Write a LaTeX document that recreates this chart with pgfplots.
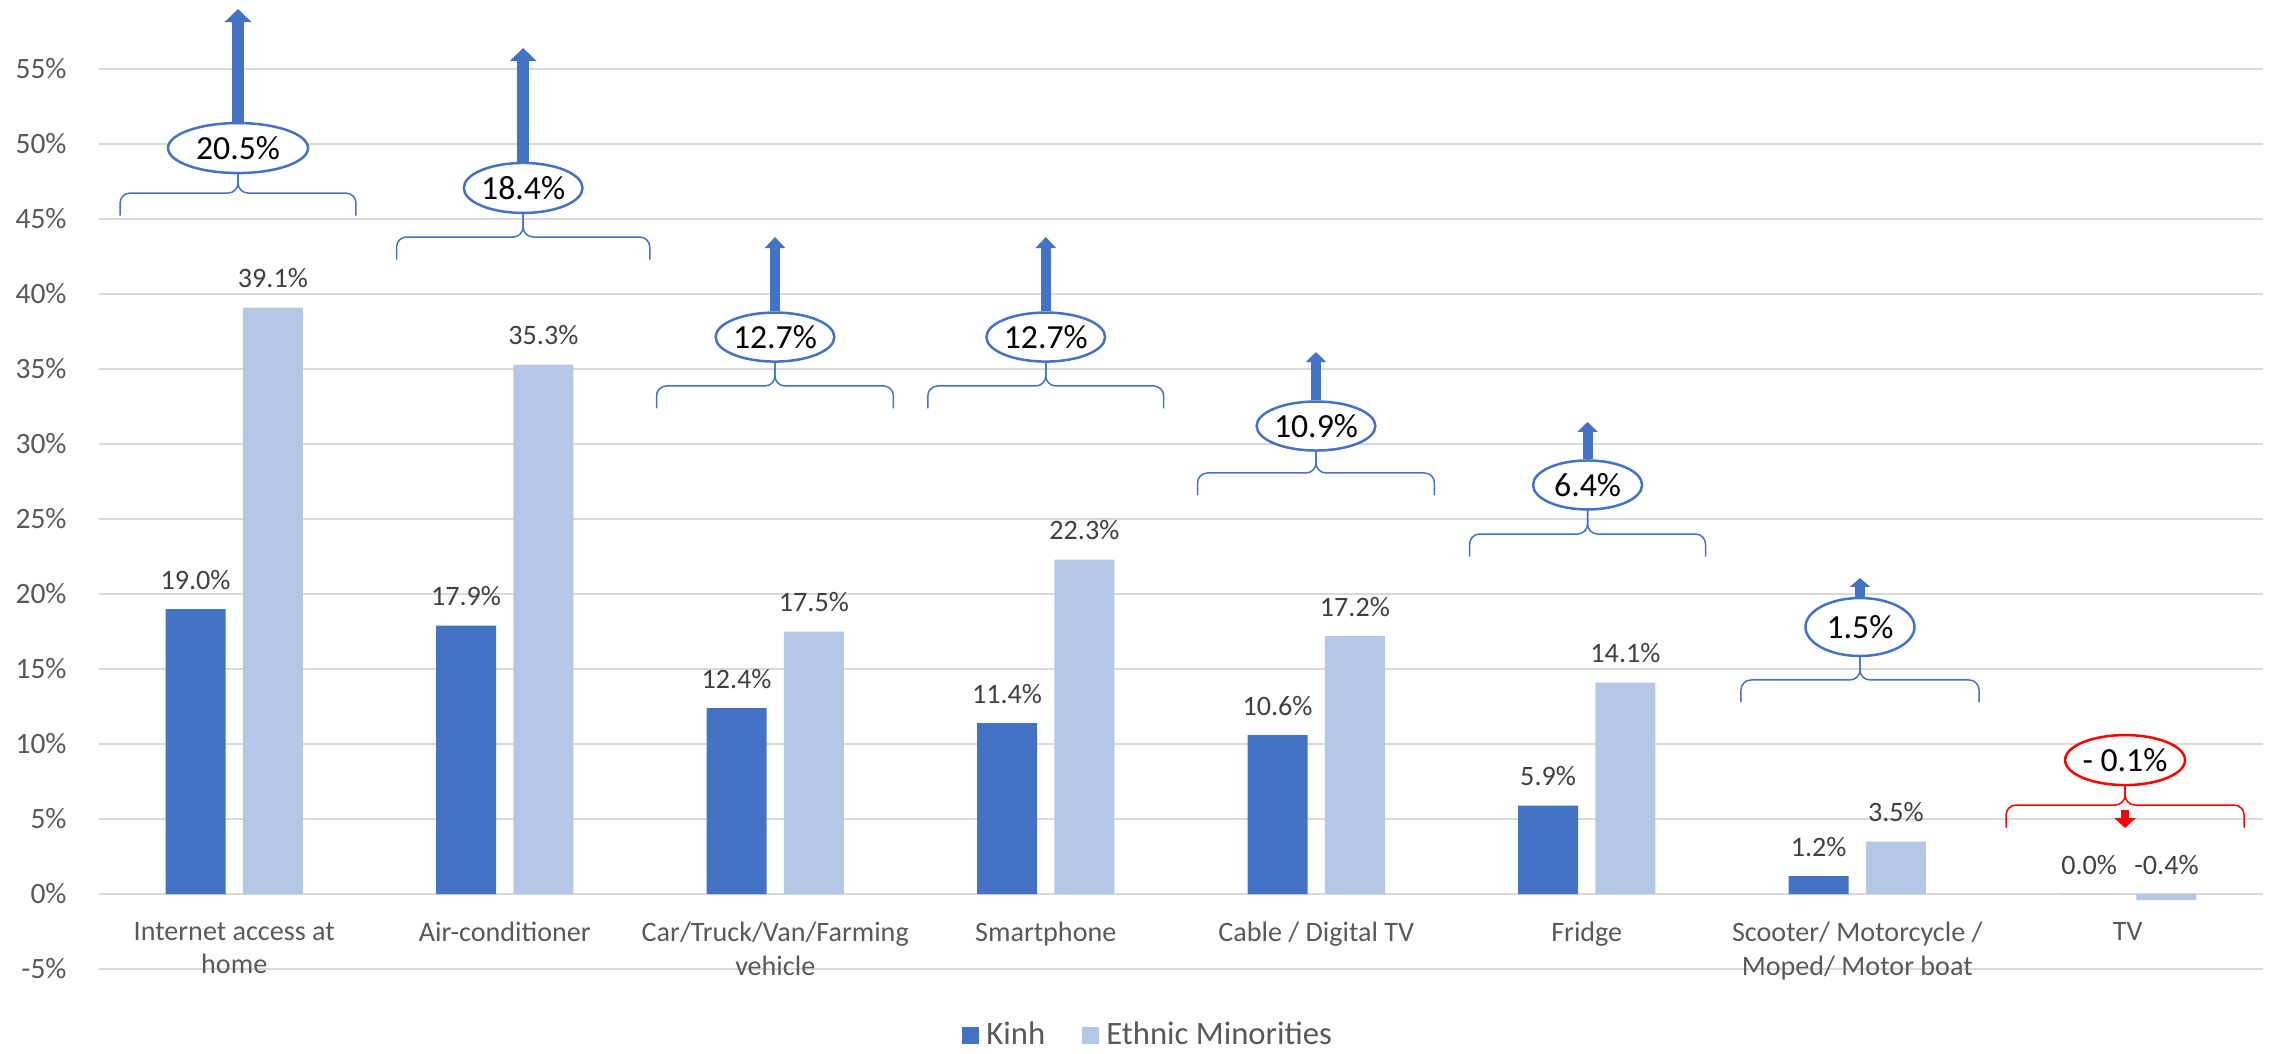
\documentclass[border=0pt]{standalone}
\usepackage{fontspec}
\setmainfont{Carlito}
\usepackage{pgfplots}
\pgfplotsset{compat=1.18}
\usetikzlibrary{shapes.geometric,arrows.meta}

\definecolor{kinh}{HTML}{4472C4}
\definecolor{ethnic}{HTML}{B4C7E7}
\definecolor{gridgray}{HTML}{D9D9D9}
\definecolor{tickgray}{HTML}{595959}
\definecolor{labgray}{HTML}{404040}
\definecolor{annred}{HTML}{FF0000}

\newcommand{\ytfont}{\fontsize{8.4pt}{9.4pt}\selectfont}
\newcommand{\xtfont}{\fontsize{8.0pt}{9.4pt}\selectfont}
\newcommand{\lblfont}{\fontsize{8.0pt}{9.4pt}\selectfont}
\newcommand{\legfont}{\fontsize{9.3pt}{10pt}\selectfont}
\newcommand{\annfont}{\fontsize{9.6pt}{11pt}\selectfont}

% ellipse with the gap, brace under it
% #1 colour, #2 name, #3 x, #4 y, #5 width, #6 height, #7 text, #8 brace half width, #9 brace y
\newcommand{\gapnote}[9]{%
  \draw[#1, line width=0.015cm, rounded corners=0.1cm]
    (axis cs:{#3-#8},{#9-1.5}) -- (axis cs:{#3-#8},#9) -- (axis cs:#3,#9) -- (axis cs:#3,{#4-1});
  \draw[#1, line width=0.015cm, rounded corners=0.1cm]
    (axis cs:{#3+#8},{#9-1.5}) -- (axis cs:{#3+#8},#9) -- (axis cs:#3,#9) -- (axis cs:#3,{#4-1});
  \node[ellipse, draw=#1, line width=0.025cm, fill=white, inner sep=0pt,
        minimum width=#5, minimum height=#6, font=\annfont, text=black] (#2) at (axis cs:#3,#4) {#7};
}
% arrow up from an ellipse: #1 name, #2 x, #3 tip y, #4 shaft, #5 head width, #6 head length
\newcommand{\uparr}[6]{%
  \draw[kinh, line width=#4, -{Triangle[width=#5,length=#6]}] (#1.north) -- (axis cs:#2,#3);
}

\begin{document}
\begin{tikzpicture}
\begin{axis}[
  scale only axis,
  width=21.64cm, height=9cm,
  xmin=-0.5, xmax=7.5,
  ymin=-5, ymax=55,
  ybar, bar width=0.2218,
  ytick={-5,0,...,55},
  xtick={0,...,7},
  xticklabels={{Internet access at\\home}, Air-conditioner, {Car/Truck/Van/Farming\\vehicle}, Smartphone,
    Cable / Digital TV, Fridge, {Scooter/ Motorcycle /\\Moped/ Motor boat}, TV},
  xticklabel style={align=center, text=tickgray, font=\xtfont, yshift=0.59cm},
  yticklabel={\pgfmathprintnumber{\tick}\%},
  yticklabel style={text=tickgray, font=\ytfont, xshift=-0.2cm},
  /pgf/number format/assume math mode=true,
  axis line style={draw=none},
  major tick length=0pt,
  ymajorgrids,
  grid style={gridgray, line width=0.5pt},
  clip=false,
  legend columns=2,
  legend style={at={(0.486,-0.074)}, anchor=center, draw=none, fill=none,
    font=\legfont, text=tickgray,
    /tikz/every even column/.append style={column sep=0.3cm}},
  visualization depends on={rawy \as \ry},
  nodes near coords={\pgfmathprintnumber[fixed,fixed zerofill,precision=1]{\pgfplotspointmeta}\%},
  every node near coord/.append style={font=\lblfont, text=labgray, anchor=south,
    yshift={0.07cm+max(0,-\ry)*0.15cm}},
]

\addplot[bar shift=-0.143, fill=kinh, draw=none,
  legend image code/.code={\fill[kinh] (0cm,-0.085cm) rectangle (0.17cm,0.085cm);}]
  coordinates {(0,19.0) (1,17.9) (2,12.4) (3,11.4) (4,10.6) (5,5.9) (6,1.2) (7,0.0)};
\addlegendentry{Kinh}

\addplot[bar shift=0.143, fill=ethnic, draw=none,
  legend image code/.code={\fill[ethnic] (0cm,-0.085cm) rectangle (0.17cm,0.085cm);}]
  coordinates {(0,39.1) (1,35.3) (2,17.5) (3,22.3) (4,17.2) (5,14.1) (6,3.5) (7,-0.4)};
\addlegendentry{Ethnic Minorities}

\gapnote{kinh}{g1}{0.014}{49.73}{1.40cm}{0.50cm}{20.5\%}{0.436}{46.73}
\uparr{g1}{0.014}{59.0}{0.12cm}{0.26cm}{0.13cm}
\gapnote{kinh}{g2}{1.068}{47.07}{1.16cm}{0.50cm}{18.4\%}{0.468}{43.8}
\uparr{g2}{1.068}{56.4}{0.12cm}{0.26cm}{0.13cm}
\gapnote{kinh}{g3}{1.999}{37.13}{1.09cm}{0.49cm}{12.7\%}{0.438}{33.87}
\uparr{g3}{1.999}{43.8}{0.10cm}{0.20cm}{0.11cm}
\gapnote{kinh}{g4}{3.0}{37.13}{1.09cm}{0.49cm}{12.7\%}{0.436}{33.87}
\uparr{g4}{3.0}{43.8}{0.10cm}{0.20cm}{0.11cm}
\gapnote{kinh}{g5}{3.999}{31.2}{1.09cm}{0.49cm}{10.9\%}{0.438}{28.07}
\uparr{g5}{3.999}{36.13}{0.10cm}{0.20cm}{0.10cm}
\gapnote{kinh}{g6}{5.003}{27.27}{1.09cm}{0.49cm}{6.4\%}{0.436}{24.0}
\uparr{g6}{5.003}{31.47}{0.10cm}{0.20cm}{0.10cm}
\gapnote{kinh}{g7}{6.01}{17.8}{1.09cm}{0.58cm}{1.5\%}{0.44}{14.27}
\uparr{g7}{6.01}{21.07}{0.10cm}{0.20cm}{0.09cm}
\gapnote{annred}{g8}{6.99}{8.93}{1.08cm}{0.50cm}{- 0.1\%}{0.44}{5.93}
\draw[annred, line width=0.08cm, -{Triangle[width=0.21cm,length=0.1cm]}] (axis cs:6.99,5.6) -- (axis cs:6.99,4.4);

\path (rel axis cs:0,0) ++(-0.99cm,-0.84cm) coordinate (bbA);
\path (rel axis cs:1,1) ++(0.12cm,0.69cm) coordinate (bbB);
\end{axis}
\pgfresetboundingbox
\path[use as bounding box] (bbA) rectangle (bbB);
\end{tikzpicture}
\end{document}
